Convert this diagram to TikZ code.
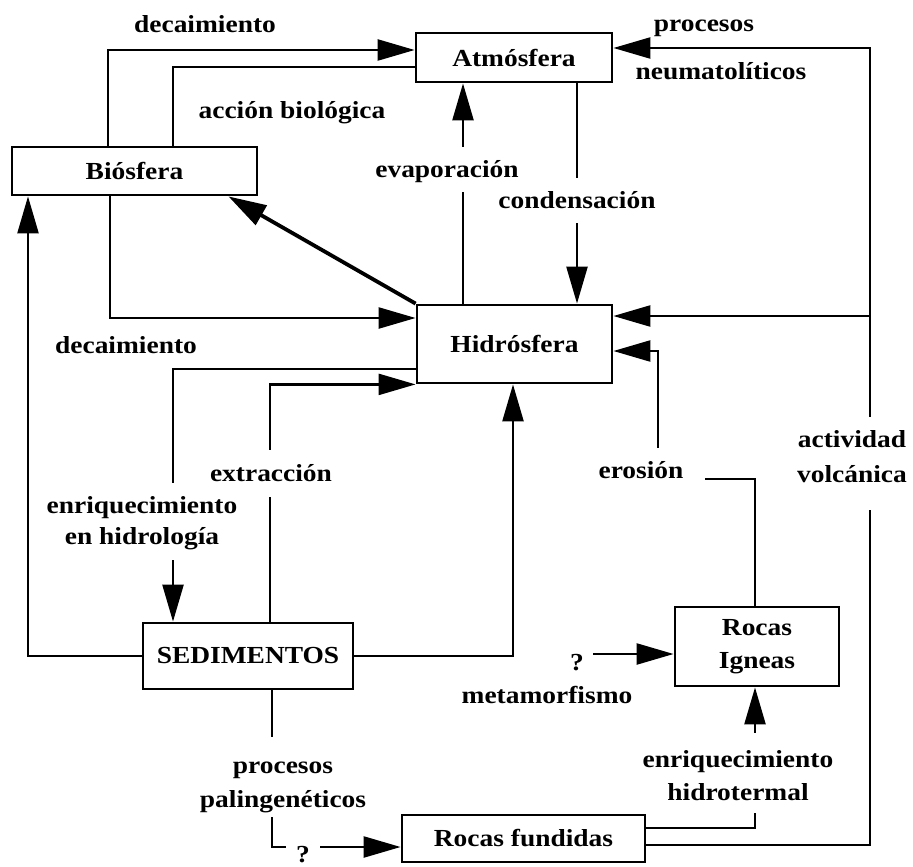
\documentclass[tikz,border=0pt]{standalone}
\usepackage{fontspec}
\setmainfont{Liberation Serif}
\usetikzlibrary{arrows.meta,calc}
\newcommand\wtx[1]{\scalebox{1.12}[1]{#1}}
\begin{document}
\begin{tikzpicture}[x=1pt,y=-1pt,line width=2.4pt,
  every node/.style={font=\fontsize{24.5}{33}\selectfont\bfseries},
  box/.style={draw,line width=2.8pt,fill=white,inner sep=0pt},
  lbl/.style={anchor=base,inner sep=0pt,text height=17pt,text depth=6pt},
  gap/.style={anchor=base,inner ysep=0pt,inner xsep=4pt,fill=white},
  arr/.style={-{Triangle[length=37pt,width=21pt]}},
  thickarr/.style={line width=3.8pt,-{Triangle[length=38pt,width=22pt]}}]
\useasboundingbox (0,0) rectangle (913,867);
% boxes
\node[box,minimum width=196pt,minimum height=49pt] (atm) at (514,57.5) {\wtx{Atmósfera}};
\node[box,minimum width=245pt,minimum height=48pt] (bio) at (134.5,171) {\wtx{Biósfera}};
\node[box,minimum width=195pt,minimum height=78pt] (hid) at (514.5,344) {\wtx{Hidrósfera}};
\node[box,minimum width=210pt,minimum height=66pt] (sed) at (248,656) {\wtx{SEDIMENTOS}};
\node[box,minimum width=164pt,minimum height=79pt,align=center] (ign) at (757,646.5) {\wtx{Rocas}\\\wtx{Igneas}};
\node[box,minimum width=243pt,minimum height=47pt] (rf) at (523.5,838.5) {\wtx{Rocas fundidas}};
% connectors
\draw[arr] (108,0 |- bio.north) |- (atm.west |- 0,50);
\draw (atm.west |- 0,67) -| (173,0 |- bio.north);
\draw[thickarr] (hid.north west) -- ($(bio.south east)+(-30,0)$);
\draw[arr] (463,0 |- hid.north) -- (463,0 |- atm.south);
\draw[arr] (577,0 |- atm.south) -- (577,0 |- hid.north);
\draw[arr] (110,0 |- bio.south) |- (hid.west |- 0,318);
\draw[arr] (hid.west |- 0,369) -| (173,0 |- sed.north);
\draw[arr] (270,0 |- sed.north) |- (hid.south west);
\draw[arr] (sed.east) -| (513,0 |- hid.south);
\draw[arr] (sed.west) -| (28,0 |- bio.south);
\draw[arr] (755,0 |- ign.north) |- (658,479) |- (hid.east |- 0,351);
\draw[arr] (rf.east |- 0,845) -| (870,48) -- (atm.east |- 0,48);
\coordinate (vj) at (870,316);
\draw[arr] (vj) -- (hid.east |- vj);
\draw[arr] (rf.east |- 0,828) -| (755,0 |- ign.south);
\draw[arr] (272,0 |- sed.south) |- (rf.west |- 0,847);
\coordinate (mq) at (593,654);
\draw[arr] (mq) -- (ign.west |- mq);
% labels
\node[lbl] (t1) at (205,33) {\wtx{decaimiento}};
\node[lbl] (t2) at (292,118) {\wtx{acción biológica}};
\node[gap,text height=30pt,text depth=15pt] (t3) at (447,177) {\wtx{evaporación}};
\node[gap,text height=30pt,text depth=15pt] (t4) at (577,208) {\wtx{condensación}};
\node[lbl] (t5) at (704,32) {\wtx{procesos}};
\node[lbl] (t6) at (721,80) {\wtx{neumatolíticos}};
\node[lbl] (t7) at (126,353) {\wtx{decaimiento}};
\node[gap,text height=31pt,text depth=16pt] (t8) at (271,481) {\wtx{extracción}};
\node[gap,text height=30pt,text depth=14pt] (t9) at (142,513) {\wtx{enriquecimiento}};
\node[gap,text height=17pt,text depth=16pt] (t10) at (142,544) {\wtx{en hidrología}};
\node[gap,text height=30pt,text depth=8pt,inner xsep=22pt] (t11) at (641,478) {\wtx{erosión}};
\node[gap,text height=30pt,text depth=18pt] (t12) at (852,447) {\wtx{actividad}};
\node[gap,text height=17pt,text depth=28pt] (t13) at (852,482) {\wtx{volcánica}};
\node[lbl] (t14) at (577,670) {\wtx{?}};
\node[lbl] (t15) at (547,703) {\wtx{metamorfismo}};
\node[gap,text height=36pt,text depth=17pt] (t16) at (283,773) {\wtx{procesos}};
\node[gap,text height=17pt,text depth=10pt] (t17) at (283,807) {\wtx{palingenéticos}};
\node[gap,text height=34pt,text depth=16pt] (t18) at (738,767) {\wtx{enriquecimiento}};
\node[gap,text height=17pt,text depth=13pt] (t19) at (738,800) {\wtx{hidrotermal}};
\node[gap,text height=19pt,text depth=6pt,inner xsep=10pt] (t20) at (303,862) {\wtx{?}};
\end{tikzpicture}
\end{document}
